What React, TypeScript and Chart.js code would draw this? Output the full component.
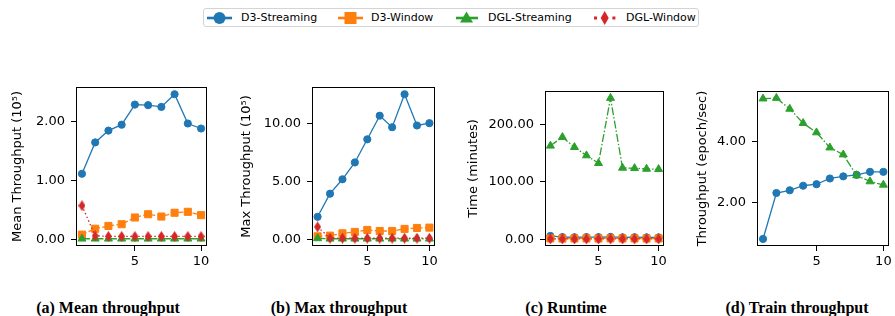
import React, { useEffect, useRef } from 'react';
import { Chart, registerables } from 'chart.js';

Chart.register(...registerables);

// ---------- data ----------
const runs = [1, 2, 3, 4, 5, 6, 7, 8, 9, 10];
const seriesNames = ['D3-Streaming', 'D3-Window', 'DGL-Streaming', 'DGL-Window'];
const seriesColors = ['#1f77b4', '#ff7f0e', '#2ca02c', '#d62728'];

// (a) mean throughput (10^5)
const meanD3Streaming = [1.11, 1.64, 1.84, 1.94, 2.28, 2.27, 2.24, 2.455, 1.96, 1.875];
const meanD3Window = [0.08, 0.18, 0.227, 0.256, 0.37, 0.425, 0.386, 0.45, 0.466, 0.41];
const meanDGLStreaming = [0.01, 0.01, 0.01, 0.01, 0.01, 0.01, 0.01, 0.01, 0.01, 0.01];
const meanDGLWindow = [0.57, 0.06, 0.05, 0.05, 0.05, 0.05, 0.05, 0.05, 0.05, 0.05];

// (b) max throughput (10^5)
const maxD3Streaming = [1.94, 3.93, 5.17, 6.62, 8.61, 10.64, 9.65, 12.49, 9.8, 10.0];
const maxD3Window = [0.26, 0.32, 0.52, 0.64, 0.81, 0.72, 0.72, 0.9, 0.98, 1.01];
const maxDGLStreaming = [0.08, 0.05, 0.05, 0.05, 0.05, 0.05, 0.05, 0.05, 0.05, 0.05];
const maxDGLWindow = [1.07, 0.1, 0.1, 0.1, 0.1, 0.1, 0.1, 0.1, 0.1, 0.1];

// (c) runtime (minutes)
const runtimeD3Streaming = [5.5, 3.5, 3.3, 3.5, 3.4, 3.8, 3.1, 3.3, 3.0, 3.0];
const runtimeD3Window = [1.2, 1.0, 1.1, 1.2, 1.0, 1.3, 1.1, 1.2, 1.0, 1.1];
const runtimeDGLStreaming = [162.7, 177.8, 160.3, 145.8, 132.4, 246.0, 124.2, 123.6, 122.4, 121.9];
const runtimeDGLWindow = [0.4, 0.3, 0.3, 0.3, 0.3, 0.3, 0.3, 0.3, 0.3, 0.3];

// (d) train throughput (epoch/sec)
const trainD3Streaming = [0.79, 2.31, 2.4, 2.55, 2.6, 2.79, 2.86, 2.91, 3.01, 3.01];
const trainDGLStreaming = [5.43, 5.45, 5.09, 4.62, 4.31, 3.81, 3.58, 2.89, 2.69, 2.58];

const xTicks = [5, 10];
const meanTicks = [0, 1, 2];
const maxTicks = [0, 5, 10];
const runtimeTicks = [0, 100, 200];
const trainTicks = [2, 4];

const yTitles = ['Mean Throughput (10\u2075)', 'Max Throughput (10\u2075)', 'Time (minutes)', 'Throughput (epoch/sec)'];
const captions = ['(a) Mean throughput', '(b) Max throughput', '(c) Runtime', '(d) Train throughput'];

// ---------- layout ----------
type PanelLayout = {
  left: number; top: number; width: number; height: number;
  yAxisWidth: number; padTop: number; padRight: number; xAxisHeight: number; titlePad: number;
};

const panelLayouts: PanelLayout[] = [
  { left: 0, top: 80, width: 220, height: 200, yAxisWidth: 76, padTop: 7, padRight: 13, xAxisHeight: 34, titlePad: 10 },
  { left: 225, top: 80, width: 220, height: 200, yAxisWidth: 87, padTop: 7, padRight: 10, xAxisHeight: 34, titlePad: 14 },
  { left: 445, top: 80, width: 225, height: 200, yAxisWidth: 100, padTop: 11, padRight: 6, xAxisHeight: 34, titlePad: 20.5 },
  { left: 665, top: 80, width: 230, height: 200, yAxisWidth: 92, padTop: 11, padRight: 2, xAxisHeight: 34, titlePad: 29.5 },
];
const captionCenters = [108, 339, 566, 797];

const lineDash = [[], [5, 2.2], [8, 2, 1.5, 2], [1.5, 2.5]];

function makeThinDiamond(w: number, h: number, color: string) {
  const c = document.createElement('canvas');
  c.width = w;
  c.height = h;
  const ctx = c.getContext('2d')!;
  ctx.fillStyle = color;
  ctx.beginPath();
  ctx.moveTo(w / 2, 0);
  ctx.lineTo(w, h / 2);
  ctx.lineTo(w / 2, h);
  ctx.lineTo(0, h / 2);
  ctx.closePath();
  ctx.fill();
  return c;
}

const framePlugin = {
  id: 'frame',
  afterDraw(chart: any) {
    const { ctx, chartArea: a } = chart;
    ctx.save();
    ctx.strokeStyle = '#000';
    ctx.lineWidth = 1;
    const l = Math.floor(a.left) + 0.5;
    const t = Math.floor(a.top) + 0.5;
    const r = Math.floor(a.right) - 0.5;
    const b = Math.floor(a.bottom) - 0.5;
    ctx.strokeRect(l, t, r - l, b - t);
    ctx.restore();
  },
};

function paddedRange(values: number[]) {
  const lo = Math.min(...values);
  const hi = Math.max(...values);
  const m = (hi - lo) * 0.05;
  return { min: lo - m, max: hi + m };
}

type PanelProps = { idx: number; series: { s: number; values: number[] }[]; yTicks: number[] };

function Panel({ idx, series, yTicks }: PanelProps) {
  const ref = useRef<HTMLCanvasElement>(null);
  const L = panelLayouts[idx];
  useEffect(() => {
    if (!ref.current) return;
    const diamond = makeThinDiamond(7, 11, seriesColors[3]);
    const yr = paddedRange(series.flatMap((d) => d.values));
    const xr = paddedRange(runs);
    const datasets = series.map((d) => {
      const color = seriesColors[d.s];
      const style: any = d.s === 0 ? 'circle' : d.s === 1 ? 'rect' : d.s === 2 ? 'triangle' : diamond;
      const radius = d.s === 0 ? 3.6 : d.s === 1 ? 5 : d.s === 2 ? 4.6 : 5;
      return {
        label: seriesNames[d.s],
        data: d.values.map((v, i) => ({ x: runs[i], y: v })),
        borderColor: color,
        backgroundColor: color,
        borderWidth: 1.3,
        borderDash: lineDash[d.s],
        pointStyle: style,
        pointRadius: radius,
        pointBackgroundColor: color,
        pointBorderColor: color,
        pointBorderWidth: 1,
        tension: 0,
        order: 3 - d.s,
        clip: false as any,
      };
    });
    const tickFont = { family: 'DejaVu Sans', size: 13 };
    const chart = new Chart(ref.current, {
      type: 'line',
      data: { datasets },
      plugins: [framePlugin],
      options: {
        animation: false,
        responsive: false,
        events: [],
        layout: { padding: { top: L.padTop, right: L.padRight, left: 0, bottom: 0 } },
        plugins: { legend: { display: false }, tooltip: { enabled: false } },
        scales: {
          x: {
            type: 'linear',
            min: xr.min,
            max: xr.max,
            grid: { display: true, drawOnChartArea: false, drawTicks: true, tickLength: 5, tickColor: '#000', tickWidth: 1 },
            border: { display: false },
            ticks: { color: '#000', font: tickFont, padding: 3, autoSkip: false, maxRotation: 0, callback: (v: any) => String(v) },
            afterBuildTicks: (s: any) => { s.ticks = xTicks.map((v) => ({ value: v })); },
            afterFit: (s: any) => { s.height = L.xAxisHeight; s.paddingLeft = 0; s.paddingRight = 0; },
          },
          y: {
            type: 'linear',
            min: yr.min,
            max: yr.max,
            grid: { display: true, drawOnChartArea: false, drawTicks: true, tickLength: 5, tickColor: '#000', tickWidth: 1 },
            border: { display: false },
            ticks: { color: '#000', font: tickFont, padding: 6, autoSkip: false, callback: (v: any) => Number(v).toFixed(2) },
            title: { display: true, text: yTitles[idx], color: '#000', font: { family: 'DejaVu Sans', size: 13 }, padding: { top: L.titlePad, bottom: 0 } },
            afterBuildTicks: (s: any) => { s.ticks = yTicks.map((v) => ({ value: v })); },
            afterFit: (s: any) => { s.width = L.yAxisWidth; s.paddingTop = 0; s.paddingBottom = 0; },
          },
        },
      } as any,
    });
    return () => chart.destroy();
  }, []);
  return (
    <canvas
      ref={ref}
      width={L.width}
      height={L.height}
      style={{ position: 'absolute', left: L.left, top: L.top, width: L.width, height: L.height }}
    />
  );
}

function LegendHandle({ s, x }: { s: number; x: number }) {
  const c = seriesColors[s];
  const cy = 9;
  const len = 25;
  let marker: React.ReactNode = null;
  let line: React.ReactNode = null;
  const mx = len / 2 + 1;
  if (s === 0) {
    line = <line x1={1} y1={cy} x2={len + 1} y2={cy} stroke={c} strokeWidth={2.6} />;
    marker = <circle cx={mx} cy={cy} r={6} fill={c} />;
  } else if (s === 1) {
    line = <line x1={1} y1={cy} x2={len + 1} y2={cy} stroke={c} strokeWidth={2.6} />;
    marker = <rect x={mx - 6} y={cy - 6} width={12} height={12} fill={c} />;
  } else if (s === 2) {
    line = <line x1={1} y1={cy} x2={len - 2} y2={cy} stroke={c} strokeWidth={2.6} />;
    marker = <polygon points={`${mx - 2},${cy - 6.5} ${mx + 4.5},${cy + 4.5} ${mx - 8.5},${cy + 4.5}`} fill={c} />;
  } else {
    line = (
      <g fill={c}>
        <rect x={1} y={cy - 1.5} width={3} height={3} />
        <rect x={19.4} y={cy - 1.5} width={3} height={3} />
      </g>
    );
    marker = <polygon points={`${11.7},${cy - 7} ${15.7},${cy} ${11.7},${cy + 7} ${7.7},${cy}`} fill={c} />;
  }
  return (
    <svg width={30} height={18} style={{ position: 'absolute', left: x - 1, top: 8.5 }}>
      {line}
      {marker}
    </svg>
  );
}

const legendHandleX = [207, 338, 456, 594];
const legendTextX = [241, 371, 488, 626];

export default function App() {
  return (
    <div style={{ position: 'absolute', left: 0, top: 0, width: 895, height: 316, background: '#fff', overflow: 'hidden' }}>
      <div
        style={{
          position: 'absolute', left: 203, top: 8, width: 496, height: 19,
          border: '1px solid #d4d4d4', borderRadius: 3, boxSizing: 'border-box', background: '#fff',
        }}
      />
      {seriesNames.map((n, i) => (
        <React.Fragment key={n}>
          <LegendHandle s={i} x={legendHandleX[i]} />
          <span
            style={{
              position: 'absolute', left: legendTextX[i], top: 12, fontFamily: 'DejaVu Sans', fontSize: 11,
              lineHeight: '11px', color: '#000', whiteSpace: 'nowrap',
            }}
          >
            {n}
          </span>
        </React.Fragment>
      ))}
      <Panel idx={0} yTicks={meanTicks} series={[
        { s: 0, values: meanD3Streaming }, { s: 1, values: meanD3Window },
        { s: 2, values: meanDGLStreaming }, { s: 3, values: meanDGLWindow },
      ]} />
      <Panel idx={1} yTicks={maxTicks} series={[
        { s: 0, values: maxD3Streaming }, { s: 1, values: maxD3Window },
        { s: 2, values: maxDGLStreaming }, { s: 3, values: maxDGLWindow },
      ]} />
      <Panel idx={2} yTicks={runtimeTicks} series={[
        { s: 0, values: runtimeD3Streaming }, { s: 1, values: runtimeD3Window },
        { s: 2, values: runtimeDGLStreaming }, { s: 3, values: runtimeDGLWindow },
      ]} />
      <Panel idx={3} yTicks={trainTicks} series={[
        { s: 0, values: trainD3Streaming }, { s: 2, values: trainDGLStreaming },
      ]} />
      {captions.map((t, i) => (
        <div
          key={t}
          style={{
            position: 'absolute', left: captionCenters[i] - 100, width: 200, top: 300, textAlign: 'center',
            fontFamily: 'Liberation Serif', fontWeight: 'bold', fontSize: 16, lineHeight: '16px', color: '#000',
            whiteSpace: 'nowrap',
          }}
        >
          {t}
        </div>
      ))}
    </div>
  );
}
